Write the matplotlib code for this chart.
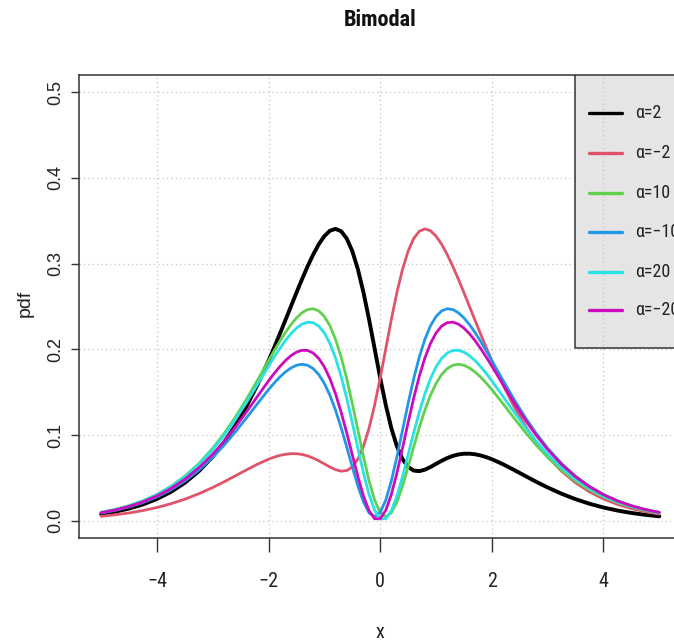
import matplotlib
matplotlib.use('Agg')
import matplotlib.pyplot as plt
from matplotlib.patches import Rectangle
from matplotlib import font_manager as fm

# ---------------- data ----------------
x = [-5.0, -4.75, -4.5, -4.25, -4.0, -3.75, -3.5, -3.25, -3.0, -2.8, -2.6, -2.4, -2.2,
     -2.0, -1.9, -1.8, -1.7, -1.6, -1.5, -1.4, -1.3, -1.2, -1.1, -1.0,
     -0.9, -0.8, -0.7, -0.6, -0.5, -0.4, -0.3, -0.2, -0.1,
     0.0,
     0.1, 0.2, 0.3, 0.4, 0.5, 0.6, 0.7, 0.8, 0.9, 1.0,
     1.1, 1.2, 1.3, 1.4, 1.5, 1.6, 1.7, 1.8, 1.9, 2.0,
     2.2, 2.4, 2.6, 2.8, 3.0, 3.25, 3.5, 3.75, 4.0, 4.25, 4.5, 4.75, 5.0]

pdf_a2 = [0.00789, 0.01066, 0.01433, 0.01918, 0.02552, 0.03376, 0.04437, 0.05788, 0.07486,
          0.09133, 0.11066, 0.13303, 0.15850,
          0.18691, 0.20208, 0.21775, 0.23379, 0.25001, 0.26615, 0.28192, 0.29692, 0.31068, 0.32264, 0.33212,
          0.33835, 0.34051, 0.33774, 0.32928, 0.31456, 0.29347, 0.26652, 0.23498, 0.20085,
          0.16667,
          0.13500, 0.10796, 0.08684, 0.07198, 0.06291, 0.05864, 0.05796, 0.05968, 0.06277, 0.06642,
          0.07004, 0.07322, 0.07572, 0.07742, 0.07828, 0.07833, 0.07763, 0.07625, 0.07431, 0.07189,
          0.06601, 0.05930, 0.05230, 0.04542, 0.03893, 0.03159, 0.02526, 0.01994, 0.01556, 0.01203,
          0.00922, 0.00702, 0.00531]

pdf_am2 = [0.00531, 0.00702, 0.00922, 0.01203, 0.01556, 0.01994, 0.02526, 0.03159, 0.03893,
           0.04542, 0.05230, 0.05930, 0.06601,
           0.07189, 0.07431, 0.07625, 0.07763, 0.07833, 0.07828, 0.07742, 0.07572, 0.07322, 0.07004, 0.06642,
           0.06277, 0.05968, 0.05796, 0.05864, 0.06291, 0.07198, 0.08684, 0.10796, 0.13500,
           0.16667,
           0.20085, 0.23498, 0.26652, 0.29347, 0.31456, 0.32928, 0.33774, 0.34051, 0.33835, 0.33212,
           0.32264, 0.31068, 0.29692, 0.28192, 0.26615, 0.25001, 0.23379, 0.21775, 0.20208, 0.18691,
           0.15850, 0.13303, 0.11066, 0.09133, 0.07486, 0.05788, 0.04437, 0.03376, 0.02552, 0.01918,
           0.01433, 0.01066, 0.00789]

pdf_a10 = [0.00990, 0.01326, 0.01767, 0.02341, 0.03079, 0.04022, 0.05208, 0.06680, 0.08472,
           0.10151, 0.12048, 0.14142, 0.16384,
           0.18691, 0.19828, 0.20924, 0.21953, 0.22880, 0.23668, 0.24274, 0.24647, 0.24736, 0.24483, 0.23834,
           0.22740, 0.21166, 0.19103, 0.16583, 0.13693, 0.10586, 0.07487, 0.04670, 0.02421,
           0.00980,
           0.00484, 0.00934, 0.02202, 0.04072, 0.06291, 0.08623, 0.10874, 0.12906, 0.14635, 0.16020,
           0.17054, 0.17752, 0.18141, 0.18259, 0.18143, 0.17831, 0.17360, 0.16763, 0.16070, 0.15308,
           0.13664, 0.11973, 0.10331, 0.08801, 0.07415, 0.05907, 0.04646, 0.03615, 0.02787, 0.02130,
           0.01617, 0.01219, 0.00914]

pdf_am10 = [0.00914, 0.01219, 0.01617, 0.02130, 0.02787, 0.03615, 0.04646, 0.05907, 0.07415,
            0.08801, 0.10331, 0.11973, 0.13664,
            0.15308, 0.16070, 0.16763, 0.17360, 0.17831, 0.18143, 0.18259, 0.18141, 0.17752, 0.17054, 0.16020,
            0.14635, 0.12906, 0.10874, 0.08623, 0.06291, 0.04072, 0.02202, 0.00934, 0.00484,
            0.00980,
            0.02421, 0.04670, 0.07487, 0.10586, 0.13693, 0.16583, 0.19103, 0.21166, 0.22740, 0.23834,
            0.24483, 0.24736, 0.24647, 0.24274, 0.23668, 0.22880, 0.21953, 0.20924, 0.19828, 0.18691,
            0.16384, 0.14142, 0.12048, 0.10151, 0.08472, 0.06680, 0.05208, 0.04022, 0.03079, 0.02341,
            0.01767, 0.01326, 0.00990]

pdf_a20 = [0.00985, 0.01318, 0.01754, 0.02320, 0.03048, 0.03974, 0.05137, 0.06574, 0.08317,
           0.09942, 0.11767, 0.13768, 0.15892,
           0.18047, 0.19095, 0.20093, 0.21012, 0.21820, 0.22479, 0.22946, 0.23174, 0.23111, 0.22706, 0.21910,
           0.20680, 0.18993, 0.16853, 0.14306, 0.11456, 0.08471, 0.05587, 0.03081, 0.01229,
           0.00249,
           0.00246, 0.01185, 0.02905, 0.05165, 0.07700, 0.10267, 0.12677, 0.14802, 0.16567, 0.17944,
           0.18936, 0.19567, 0.19872, 0.19894, 0.19675, 0.19258, 0.18681, 0.17981, 0.17188, 0.16331,
           0.14511, 0.12667, 0.10896, 0.09256, 0.07781, 0.06182, 0.04852, 0.03768, 0.02900, 0.02214,
           0.01678, 0.01264, 0.00947]

pdf_am20 = [0.00947, 0.01264, 0.01678, 0.02214, 0.02900, 0.03768, 0.04852, 0.06182, 0.07781,
            0.09256, 0.10896, 0.12667, 0.14511,
            0.16331, 0.17188, 0.17981, 0.18681, 0.19258, 0.19675, 0.19894, 0.19872, 0.19567, 0.18936, 0.17944,
            0.16567, 0.14802, 0.12677, 0.10267, 0.07700, 0.05165, 0.02905, 0.01185, 0.00246,
            0.00249,
            0.01229, 0.03081, 0.05587, 0.08471, 0.11456, 0.14306, 0.16853, 0.18993, 0.20680, 0.21910,
            0.22706, 0.23111, 0.23174, 0.22946, 0.22479, 0.21820, 0.21012, 0.20093, 0.19095, 0.18047,
            0.15892, 0.13768, 0.11767, 0.09942, 0.08317, 0.06574, 0.05137, 0.03974, 0.03048, 0.02320,
            0.01754, 0.01318, 0.00985]

series = [pdf_a2, pdf_am2, pdf_a10, pdf_am10, pdf_a20, pdf_am20]
labels = ["\u03b1=2", "\u03b1=\u22122", "\u03b1=10", "\u03b1=\u221210", "\u03b1=20", "\u03b1=\u221220"]
colors = ["black", "#DF536B", "#61D04F", "#2297E6", "#28E2E5", "#CD0BBC"]
widths = [2.8, 2.0, 2.0, 2.0, 2.0, 2.0]

xticks = [-4, -2, 0, 2, 4]
xticklabels = ["\u22124", "\u22122", "0", "2", "4"]
yticks = [0.0, 0.1, 0.2, 0.3, 0.4, 0.5]
yticklabels = ["0.0", "0.1", "0.2", "0.3", "0.4", "0.5"]


# ---------------- fonts: prefer a narrow sans if one is installed ----------------
def _w(f):
    w = f.weight
    if isinstance(w, str):
        w = fm.weight_dict.get(w, 400)
    return w


def pick_narrow(bold):
    narrow = [f for f in fm.fontManager.ttflist
              if f.stretch in ('condensed', 'semi-condensed', 'extra-condensed')
              and f.style == 'normal' and 'CJK' not in f.name]
    prefs = ['Liberation Sans Narrow', 'Arial Narrow', 'Nimbus Sans Narrow',
             'Roboto Condensed', 'Open Sans Condensed', 'Open Sans', 'Noto Sans',
             'Roboto', 'DejaVu Sans']
    target = 700 if bold else 400
    for name in prefs:
        fam = [f for f in narrow if f.name == name]
        if fam:
            best = min(fam, key=lambda f: abs(_w(f) - target))
            if abs(_w(best) - target) <= 150:
                return best.fname
    if narrow:
        best = min(narrow, key=lambda f: abs(_w(f) - target))
        return best.fname
    return None


def fprops(size, bold=False, narrow=True):
    fname = pick_narrow(bold) if narrow else None
    if fname:
        return fm.FontProperties(fname=fname, size=size)
    return fm.FontProperties(family=['Liberation Sans', 'DejaVu Sans'], size=size,
                             weight='bold' if bold else 'normal')


# ---------------- figure ----------------
AX_C = '#333333'
TXT_C = '#222222'

fig = plt.figure(figsize=(6.74, 6.43), dpi=100)
ax = fig.add_axes([0.1169, 0.1633, 0.8944, 0.7201])
ax.set_xlim(-5.4, 5.4)
ax.set_ylim(-0.02, 0.52)

for sp in ax.spines.values():
    sp.set_color(AX_C)
    sp.set_linewidth(1.1)

grid_kw = dict(color='#c4c4c4', lw=0.9, ls=(0, (1, 2.5)))
for yv in yticks:
    ax.axhline(yv, zorder=0.3, **grid_kw)

# legend box (clipped by the figure edge, as in the reference)
ax.add_patch(Rectangle((0.823, 0.4104), 0.3, 0.7, transform=ax.transAxes,
                       facecolor='#e5e5e5', edgecolor=AX_C, lw=1.1, zorder=0.6))

for xv in xticks:
    ax.axvline(xv, zorder=1.0, **grid_kw)

for ys, c, w in zip(series, colors, widths):
    ax.plot(x, ys, color=c, lw=w, zorder=3, solid_capstyle='round', solid_joinstyle='round')

# legend entries
rows = [0.9173, 0.8309, 0.7445, 0.6603, 0.5752, 0.4924]
fp_leg = fprops(13)
for r, c, lab in zip(rows, colors, labels):
    ax.plot([0.8464, 0.9011], [r, r], transform=ax.transAxes, color=c, lw=2.4,
            solid_capstyle='round', zorder=4, clip_on=False)
    ax.text(0.9227, r, lab, transform=ax.transAxes, ha='left', va='center',
            fontproperties=fp_leg, color=TXT_C, zorder=4)

ax.set_xticks(xticks)
ax.set_xticklabels(xticklabels, fontproperties=fprops(14.5), color=TXT_C)
ax.set_yticks(yticks)
ax.set_yticklabels(yticklabels, fontproperties=fprops(13, narrow=False), color=TXT_C,
                   rotation=90, va='center')
ax.tick_params(axis='x', length=10, width=1.0, color=AX_C, pad=14.5)
ax.tick_params(axis='y', length=5.8, width=1.0, color=AX_C, pad=4.5)

fig.text(380 / 674, 1 - 20 / 643, 'Bimodal', ha='center', va='center',
         fontproperties=fprops(16, bold=True), color='#111111')
fig.text(380 / 674, 1 - 633 / 643, 'x', ha='center', va='center',
         fontproperties=fprops(14.5), color=TXT_C)
fig.text(25 / 674, 1 - 303 / 643, 'pdf', ha='center', va='center', rotation=90,
         fontproperties=fprops(14, narrow=False), color=TXT_C)

fig.savefig('out.png', dpi=100)
